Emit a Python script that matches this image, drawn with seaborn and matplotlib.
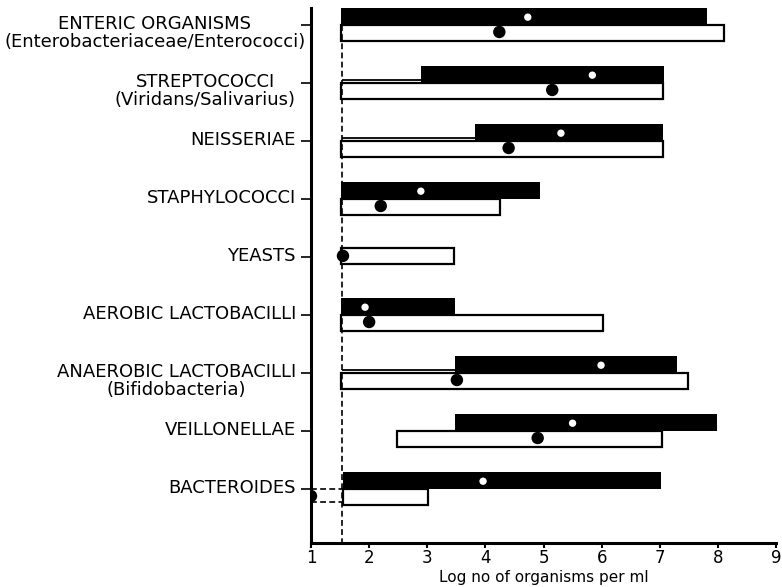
import numpy as np
import pandas as pd
import matplotlib
matplotlib.use("Agg")
import matplotlib.pyplot as plt
import matplotlib.transforms as mtransforms
import seaborn as sns

# ---------------- data ----------------
categories = [
    "ENTERIC ORGANISMS\n(Enterobacteriaceae/Enterococci)",
    "STREPTOCOCCI\n(Viridans/Salivarius)",
    "NEISSERIAE",
    "STAPHYLOCOCCI",
    "YEASTS",
    "AEROBIC LACTOBACILLI",
    "ANAEROBIC LACTOBACILLI\n(Bifidobacteria)",
    "VEILLONELLAE",
    "BACTEROIDES",
]
# filled (black) range and its median (white dot)
black_lo = [1.52, 2.9, 3.83, 1.52, np.nan, 1.52, 3.48, 3.48, 1.55]
black_hi = [7.81, 7.08, 7.06, 4.94, np.nan, 3.48, 7.3, 7.99, 7.03]
white_dot = [4.73, 5.84, 5.3, 2.89, np.nan, 1.93, 5.99, 5.5, 3.96]
# open (white) range and its median (black dot)
open_lo = [1.52, 1.52, 1.52, 1.52, 1.52, 1.52, 1.52, 2.48, 1.55]
open_hi = [8.11, 7.05, 7.05, 4.25, 3.46, 6.03, 7.49, 7.04, 3.01]
black_dot = [4.24, 5.15, 4.4, 2.2, 1.55, 2.0, 3.51, 4.9, 1.0]
# filled range extends below the detection limit (thin line)
black_below_limit = [False, True, True, False, False, False, True, False, False]
# open range extends below detection limit down to (dashed)
open_below_to = [np.nan] * 8 + [1.0]
detection_limit = 1.53
x_ticks = [1, 2, 3, 4, 5, 6, 7, 8, 9]
x_label = "Log no of organisms per ml"

# ---------------- figure ----------------
sns.set_style("ticks")
plt.rcParams["font.family"] = ["DejaVu Sans"]

W, H = 782, 587
fig = plt.figure(figsize=(W / 100, H / 100), dpi=100)
ax = fig.add_axes([311 / W, 1 - 543 / H, (776 - 311) / W, (543 - 8) / H])

n = len(categories)
pos = np.arange(n)
has_black = ~np.isnan(np.array(black_lo))

BH = 0.30   # filled bar height
OH = 0.27   # open bar height

# filled bars (above each tick)
dfb = pd.DataFrame({
    "pos": pos - BH / 2,
    "lo": black_lo,
    "span": np.array(black_hi) - np.array(black_lo),
})[has_black]
sns.barplot(data=dfb, x="span", y="pos", orient="y", native_scale=True,
            width=BH, left=dfb["lo"].to_numpy(), color="black",
            errorbar=None, linewidth=0, ax=ax, zorder=3)

# open bars (below each tick; centred on tick when there is no filled bar)
open_center = np.where(has_black, pos + OH / 2, pos - 0.02)
dfo = pd.DataFrame({
    "pos": open_center,
    "lo": open_lo,
    "span": np.array(open_hi) - np.array(open_lo),
})
for mask in (has_black, ~has_black):
    sub = dfo[mask]
    sns.barplot(data=sub, x="span", y="pos", orient="y", native_scale=True,
                width=OH, left=sub["lo"].to_numpy(), color="white",
                facecolor="white", edgecolor="black", linewidth=1.6,
                errorbar=None, ax=ax, zorder=2)

# thin lines: filled range below detection limit
for i in range(n):
    if black_below_limit[i]:
        ax.hlines(i - 0.05, detection_limit, black_lo[i], color="black",
                  lw=1.3, zorder=2)
    if not np.isnan(open_below_to[i]):
        for yy in (i, i + OH * 0.85):
            ax.hlines(yy, open_below_to[i], detection_limit, color="black",
                      lw=1.2, linestyles=(0, (3.5, 2)), zorder=2)

# detection limit dashed vertical line
ax.vlines(detection_limit, 0, n, color="black", lw=1.2,
          linestyles=(0, (3.5, 2)), zorder=2)

# median dots
dfw = pd.DataFrame({"x": white_dot, "y": pos - BH * 0.45}).dropna()
sns.scatterplot(data=dfw, x="x", y="y", color="white", s=28,
                edgecolor="none", ax=ax, zorder=5, legend=False)
dfk = pd.DataFrame({"x": black_dot,
                    "y": np.where(has_black, pos + 0.12, pos - 0.02)})
sns.scatterplot(data=dfk, x="x", y="y", color="black", s=80,
                edgecolor="none", ax=ax, zorder=6, legend=False)

# axes
ax.set_xlim(1, 9)
ax.set_ylim(n - 0.07, -0.293)
ax.set_xticks(x_ticks)
ax.set_xticklabels([str(t) for t in x_ticks], fontsize=12)
ax.set_yticks(pos)
ax.set_yticklabels([])
ax.set_xlabel(x_label, fontsize=11, labelpad=2.5, color="black")
ax.set_ylabel("")
sns.despine(ax=ax)
for side in ("left", "bottom"):
    ax.spines[side].set_linewidth(2.2)
    ax.spines[side].set_color("black")
ax.tick_params(axis="y", length=7, width=1.2, color="black")
ax.tick_params(axis="x", length=3.5, width=1.5, color="black", pad=0.5,
               labelcolor="black")

# category labels (first line centred on the tick)
fig.canvas.draw()
renderer = fig.canvas.get_renderer()
for i, lab in enumerate(categories):
    multi = "\n" in lab
    dy = 10 if multi else 1
    va = "top" if multi else "center"
    tr = mtransforms.offset_copy(ax.get_yaxis_transform(), fig=fig,
                                 x=-15, y=dy, units="dots")
    t = ax.text(0, i, lab, transform=tr, ha="right", va=va,
                multialignment="center", fontsize=13, linespacing=1.0,
                color="black")
    bb = t.get_window_extent(renderer)
    if bb.x0 < 4:
        shift = 4 - bb.x0
        t.set_transform(mtransforms.offset_copy(
            ax.get_yaxis_transform(), fig=fig, x=-15 + shift, y=dy,
            units="dots"))

fig.savefig("out.png", dpi=100)
